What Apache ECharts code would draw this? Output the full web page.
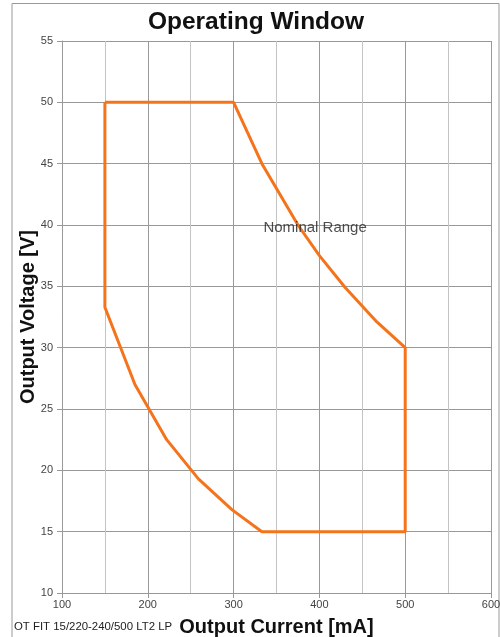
<!DOCTYPE html>
<html>
<head>
<meta charset="utf-8">
<script src="https://cdn.jsdelivr.net/npm/echarts@6/dist/echarts.min.js"></script>
<style>
html,body{margin:0;padding:0;background:#fff;}
#main{width:500px;height:637px;}
</style>
</head>
<body>
<div id="main"></div>
<script>
// Data
const windowCurrent = [150, 300, 333, 375, 400, 430, 467, 500, 500, 333, 298, 259, 222, 185, 150, 150];
const windowVoltage = [50, 50, 45, 40, 37.5, 34.9, 32.1, 30, 15, 15, 16.8, 19.3, 22.5, 27, 33.3, 50];
const labelText = "Nominal Range";
const labelPoint = [395, 39.8];
const titleText = "Operating Window";
const xName = "Output Current [mA]";
const yName = "Output Voltage [V]";
const footnote = "OT FIT 15/220-240/500 LT2 LP";

const chart = echarts.init(document.getElementById('main'));
const fontFam = 'Arial, "Liberation Sans", sans-serif';
chart.setOption({
  animation: false,
  backgroundColor: '#fff',
  title: {
    text: titleText, left: 251, top: 5, textAlign: 'center',
    textStyle: {fontFamily: fontFam, fontSize: 24.5, fontWeight: 'bold', color: '#111'}
  },
  graphic: [
    {type: 'polyline', shape: {points: [[12, 640], [12, 3.5], [499, 3.5], [499, 640]]}, style: {stroke: '#999', lineWidth: 1, fill: null}, silent: true},
    {type: 'text', left: 14, top: 621, style: {text: footnote, fontFamily: fontFam, fontSize: 11.4, fill: '#222'}}
  ],
  grid: {left: 62, right: 9, top: 41, bottom: 44, outerBoundsMode: 'none', containLabel: false},
  xAxis: {
    type: 'value', min: 100, max: 600, interval: 100,
    name: xName, nameLocation: 'middle', nameGap: 24, nameMoveOverlap: false,
    nameTextStyle: {fontFamily: fontFam, fontSize: 20, fontWeight: 'bold', color: '#111'},
    axisLine: {show: true, lineStyle: {color: '#999'}},
    axisTick: {show: true, length: 5, lineStyle: {color: '#999'}},
    axisLabel: {fontFamily: fontFam, fontSize: 11, color: '#444', margin: 6},
    splitLine: {show: true, lineStyle: {color: '#999', width: 1}},
    minorTick: {show: false, splitNumber: 2},
    minorSplitLine: {show: true, lineStyle: {color: '#c4c4c4', width: 1}}
  },
  yAxis: {
    type: 'value', min: 10, max: 55, interval: 5,
    name: yName, nameLocation: 'middle', nameGap: 24, nameRotate: 90, nameMoveOverlap: false,
    nameTextStyle: {fontFamily: fontFam, fontSize: 20, fontWeight: 'bold', color: '#111'},
    axisLine: {show: true, lineStyle: {color: '#999'}},
    axisTick: {show: true, length: 5, lineStyle: {color: '#999'}},
    axisLabel: {fontFamily: fontFam, fontSize: 11, color: '#444', margin: 9},
    splitLine: {show: true, lineStyle: {color: '#999', width: 1}}
  },
  series: [
    {
      type: 'line',
      data: windowCurrent.map((x, i) => [x, windowVoltage[i]]),
      symbol: 'none',
      lineStyle: {color: '#F5731A', width: 3},
      z: 5
    },
    {
      type: 'scatter',
      data: [labelPoint],
      symbolSize: 0,
      label: {show: true, position: 'inside', formatter: labelText, fontFamily: fontFam, fontSize: 15, color: '#222'},
      z: 6
    }
  ]
});
</script>
</body>
</html>
